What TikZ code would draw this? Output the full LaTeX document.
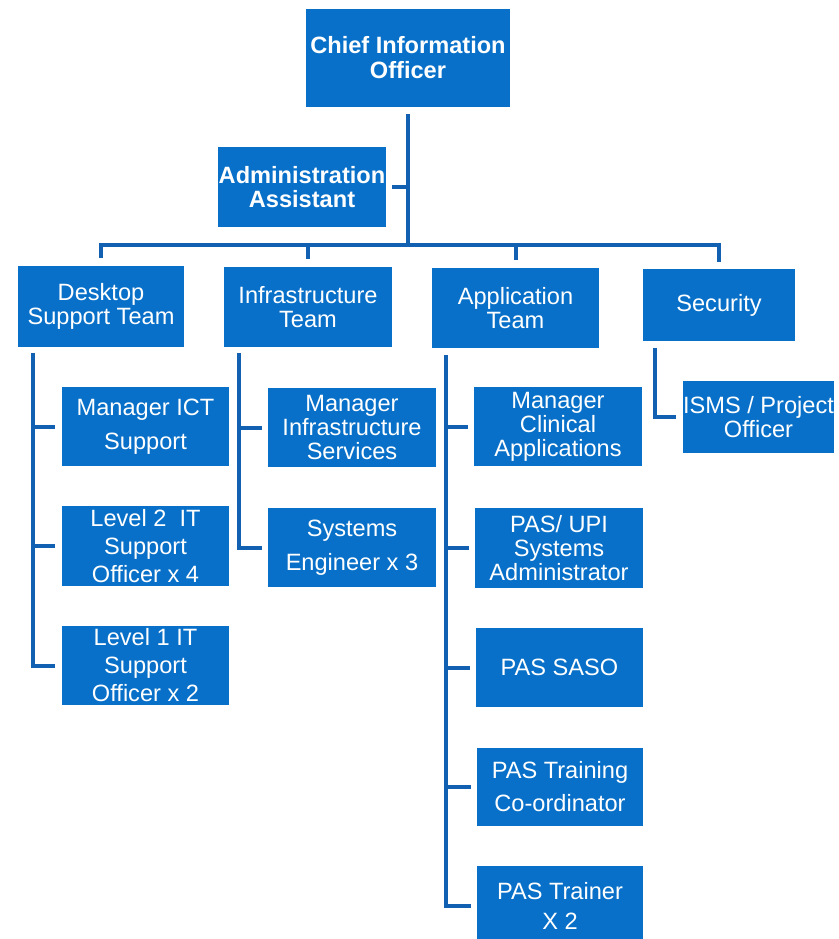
\documentclass[tikz,border=0pt]{standalone}
\usepackage{fontspec}
\setmainfont{Liberation Sans}
\definecolor{boxblue}{RGB}{8,112,200}
\definecolor{lineblue}{RGB}{18,96,178}
\tikzset{
  orgbox/.style={fill=boxblue, draw=none, text=white, align=center, inner sep=0pt, outer sep=0pt},
  conn/.style={draw=lineblue, line width=4pt, line join=miter}
}
\newcommand\orgbox[7][24]{%
  \node[orgbox, minimum width={(#5-#3)*1pt}, minimum height={(#6-#4)*1pt},
        font=\fontsize{23.6}{#1}\selectfont] (#2) at ({(#3+#5)/2},{(#4+#6)/2}) {#7};}
\begin{document}
\begin{tikzpicture}[x=1pt,y=-1pt]
\useasboundingbox (0,0) rectangle (838,939);
\fill[white] (0,0) rectangle (838,939);
% top level
\orgbox[25]{cio}{306}{9}{510}{107}{\textbf{Chief Information}\\\textbf{Officer}}
\orgbox{admin}{218}{147}{386}{227}{\textbf{Administration}\\\textbf{Assistant}}
% teams
\orgbox{desk}{18}{266}{184}{347}{Desktop\\Support Team}
\orgbox{infra}{224}{267}{392}{347}{Infrastructure\\Team}
\orgbox{app}{432}{268}{599}{348}{Application\\Team}
\orgbox{sec}{643}{269}{795}{341}{Security}
% desktop children
\orgbox[34]{mict}{62}{387}{229}{466}{Manager ICT\\Support}
\orgbox[28]{ltwo}{62}{506}{229}{586}{Level 2\ \ IT\\Support\\Officer x 4}
\orgbox[28]{lone}{62}{626}{229}{705}{Level 1 IT\\Support\\Officer x 2}
% infra children
\orgbox{minf}{268}{388}{436}{467}{Manager\\Infrastructure\\Services}
\orgbox[34]{seng}{268}{508}{436}{587}{Systems\\Engineer x 3}
% application children
\orgbox{mclin}{474}{387}{642}{466}{Manager\\Clinical\\Applications}
\orgbox{pasupi}{475}{508}{643}{588}{PAS/ UPI\\Systems\\Administrator}
\orgbox{saso}{476}{628}{643}{707}{PAS SASO}
\orgbox[33]{ptc}{477}{748}{643}{826}{PAS Training\\Co-ordinator}
\orgbox[30]{ptr}{477}{866}{643}{945}{PAS Trainer\\X 2}
% security child
\orgbox{isms}{683}{381}{834}{453}{ISMS / Project\\Officer}

% connectors
\coordinate (bar) at (0,245);
\draw[conn, shorten <=7pt] (cio.south) -- (cio.south |- bar);
\draw[conn, shorten <=6pt] (admin.east) -- (admin.east -| cio.south);
\draw[conn, shorten <=8pt, shorten >=7pt] (desk.north) -- (desk.north |- bar) -- (sec.north |- bar) -- (sec.north);
\draw[conn, shorten >=8pt] (infra.north |- bar) -- (infra.north);
\draw[conn, shorten >=8pt] (app.north |- bar) -- (app.north);

\coordinate (dv) at (33,353);
\draw[conn, shorten >=7pt] (dv) |- (lone.west);
\draw[conn, shorten >=7pt] (dv |- mict.west) -- (mict.west);
\draw[conn, shorten >=7pt] (dv |- ltwo.west) -- (ltwo.west);

\coordinate (iv) at (239,353);
\draw[conn, shorten >=6pt] (iv) |- (seng.west);
\draw[conn, shorten >=6pt] (iv |- minf.west) -- (minf.west);

\coordinate (av) at (446,355);
\draw[conn, shorten >=6pt] (av) |- (ptr.west);
\draw[conn, shorten >=6pt] (av |- mclin.west) -- (mclin.west);
\draw[conn, shorten >=6pt] (av |- pasupi.west) -- (pasupi.west);
\draw[conn, shorten >=6pt] (av |- saso.west) -- (saso.west);
\draw[conn, shorten >=6pt] (av |- ptc.west) -- (ptc.west);

\coordinate (sv) at (655,348);
\draw[conn, shorten >=7pt] (sv) |- (isms.west);
\end{tikzpicture}
\end{document}
